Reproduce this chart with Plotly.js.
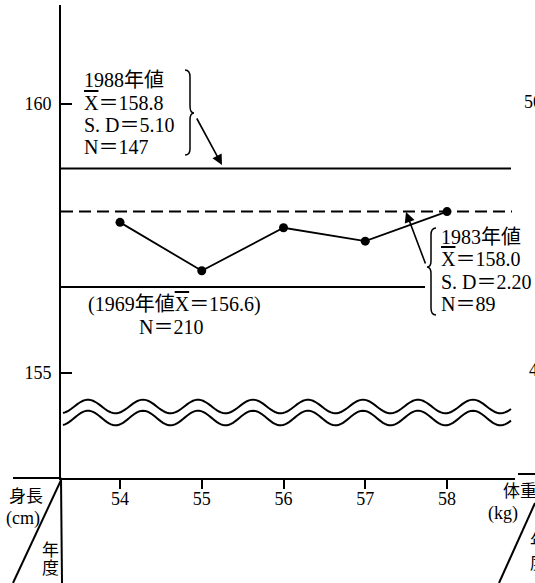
<!DOCTYPE html>
<html>
<head>
<meta charset="utf-8">
<script src="https://cdn.plot.ly/plotly-3.0.1.min.js"></script>
<style>html,body{margin:0;padding:0;background:#fff;}#chart{width:535px;height:583px;}</style>
</head>
<body>
<div id="chart"></div>
<script>
// ---- data ----
var years = [54, 55, 56, 57, 58];
var heights = [157.8, 156.9, 157.7, 157.45, 158.0];
var xTickVals = [54, 55, 56, 57, 58];
var xTickText = ['54', '55', '56', '57', '58'];
var yTickVals = [155, 160];
var yTickText = ['155', '160'];
var mean1988 = 158.8;
var mean1983 = 158.0;
var mean1969 = 156.6;
var label1988 = ['1988年値', '<span style="text-decoration:overline">X</span>＝158.8', 'S. D＝5.10', 'N＝147'];
var label1983 = ['1983年値', '<span style="text-decoration:overline">X</span>＝158.0', 'S. D＝2.20', 'N＝89'];
var label1969 = ['(1969年値<span style="text-decoration:overline">X</span>＝156.6)', 'N＝210'];

// ---- layout geometry (page pixels) ----
var L = 61, R = 515, T = 5, B = 478, FW = 535, FH = 583;
var W = R - L, H = B - T;
function px(x) { return (x - L) / W; }
function py(y) { return (B - y) / H; }
function P(x, y) { return px(x).toFixed(5) + ',' + py(y).toFixed(5); }

var FONT = '"Liberation Serif", "Noto Sans CJK JP", serif';
var fs = 20;

var annotations = [];
function txt(t, x, y, anchor, size) {
  annotations.push({text: t, xref: 'paper', yref: 'paper', x: px(x), y: py(y),
    xanchor: anchor || 'left', yanchor: 'middle', showarrow: false,
    font: {family: FONT, size: size || fs, color: '#000'}});
}
var lineY1988 = [80, 103, 125, 147];
label1988.forEach(function (t, i) { txt(t, 82, lineY1988[i]); });
var lineY1983 = [237, 259, 282, 304];
label1983.forEach(function (t, i) { txt(t, 439, lineY1983[i]); });
txt(label1969[0], 86, 304);
txt(label1969[1], 171, 327, 'center');

// axis captions
txt('身長', 26, 496, 'center', 17);
txt('(cm)', 23, 518, 'center', 18);
txt('年', 50, 550, 'center', 17);
txt('度', 50, 568, 'center', 17);
// cut-off neighbouring chart
txt('50', 522, 102, 'left', 18);
txt('45', 527, 370, 'left', 18);
txt('体重', 501, 491, 'left', 17);
txt('(kg)', 486, 513, 'left', 18);
txt('年', 528, 541, 'left', 17);
txt('度', 528, 563, 'left', 17);

// arrows
annotations.push({text: '', xref: 'paper', yref: 'paper', x: px(222), y: py(165),
  ax: -26, ay: -48, showarrow: true, arrowhead: 2, arrowsize: 1.3, arrowwidth: 1.6, arrowcolor: '#000'});
annotations.push({text: '', xref: 'paper', yref: 'paper', x: px(406), y: py(212),
  ax: 20, ay: 53, showarrow: true, arrowhead: 2, arrowsize: 1.3, arrowwidth: 1.6, arrowcolor: '#000'});

var shapes = [];
// reference lines (data y, paper x)
shapes.push({type: 'line', xref: 'paper', yref: 'y', x0: 0, x1: px(511), y0: mean1988, y1: mean1988,
  line: {color: '#000', width: 2}});
shapes.push({type: 'line', xref: 'paper', yref: 'y', x0: 0, x1: px(512), y0: mean1983, y1: mean1983,
  line: {color: '#000', width: 2, dash: '12px,6px'}});
shapes.push({type: 'line', xref: 'paper', yref: 'y', x0: 0, x1: px(425), y0: mean1969, y1: mean1969,
  line: {color: '#000', width: 2}});

function pline(x0, y0, x1, y1, w) {
  shapes.push({type: 'line', xref: 'paper', yref: 'paper', x0: px(x0), y0: py(y0), x1: px(x1), y1: py(y1),
    line: {color: '#000', width: w || 2}});
}
// axis extensions and diagonals
pline(L, B, L + 1, FH, 2);
pline(13, B, L, B, 2);
pline(L + 1, B, 13, FH, 2);
pline(518, 474, FW, 474, 2);
pline(FW, 503, 499, FH, 2);

// braces
function ppath(d) {
  shapes.push({type: 'path', xref: 'paper', yref: 'paper', path: d, line: {color: '#000', width: 1.5}});
}
ppath('M' + P(185, 70) + ' Q' + P(190, 70) + ' ' + P(190, 77) + ' L' + P(190, 106) +
  ' Q' + P(190, 113) + ' ' + P(194, 113) + ' Q' + P(190, 113) + ' ' + P(190, 120) +
  ' L' + P(190, 149) + ' Q' + P(190, 155) + ' ' + P(185, 155));
ppath('M' + P(436, 228) + ' Q' + P(431, 228) + ' ' + P(431, 235) + ' L' + P(431, 261) +
  ' Q' + P(431, 267) + ' ' + P(427, 267) + ' Q' + P(431, 267) + ' ' + P(431, 274) +
  ' L' + P(431, 308) + ' Q' + P(431, 315) + ' ' + P(436, 315));

// axis-break wavy lines (decoration)
function wave(c, a) {
  var d = '';
  for (var x = 63; x <= 512; x += 2) {
    var y = c - a * Math.cos(2 * Math.PI * (x - 88) / 55);
    d += (d ? ' L' : 'M') + P(x, y);
  }
  shapes.push({type: 'path', xref: 'paper', yref: 'paper', path: d, line: {color: '#000', width: 2}});
}
wave(406.5, 6.8);
wave(418, 7.3);

var trace = {x: years, y: heights, type: 'scatter', mode: 'lines+markers',
  line: {color: '#000', width: 1.8}, marker: {color: '#000', size: 9}, cliponaxis: false, showlegend: false};

var layout = {
  width: FW, height: FH,
  margin: {l: L, r: FW - R, t: T, b: FH - B, pad: 0},
  paper_bgcolor: '#fff', plot_bgcolor: '#fff',
  showlegend: false,
  xaxis: {range: [54 - (120 - L) / 81.75, 58 + (R - 447) / 81.75], tickvals: xTickVals, ticktext: xTickText,
    ticks: 'outside', ticklen: 9, tickwidth: 2, tickcolor: '#000', showgrid: false, zeroline: false,
    showline: true, linecolor: '#000', linewidth: 2, fixedrange: true, ticklabelstandoff: -6,
    tickfont: {family: FONT, size: 18, color: '#000'}},
  yaxis: {range: [160 - (B - 104) / 53.8, 160 + (104 - T) / 53.8], tickvals: yTickVals, ticktext: yTickText,
    ticks: 'inside', ticklen: 11, tickwidth: 2, tickcolor: '#000', showgrid: false, zeroline: false,
    showline: true, linecolor: '#000', linewidth: 2, fixedrange: true, ticklabelstandoff: 4,
    tickfont: {family: FONT, size: 18, color: '#000'}},
  shapes: shapes,
  annotations: annotations
};

Plotly.newPlot('chart', [trace], layout, {staticPlot: true, displayModeBar: false});
</script>
</body>
</html>
